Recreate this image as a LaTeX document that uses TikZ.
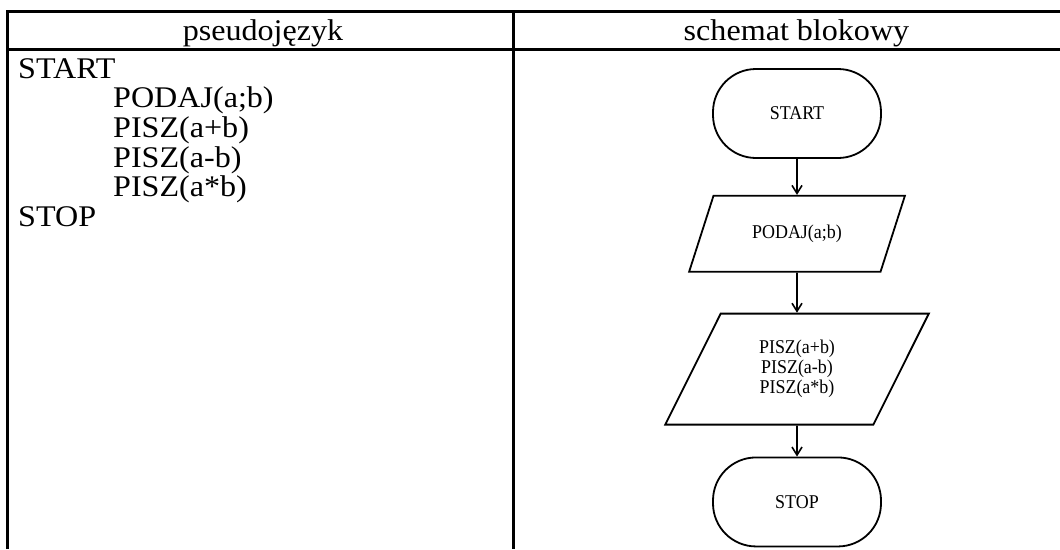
\documentclass[tikz,border=0pt]{standalone}
\usepackage{fontspec}
\setmainfont{Liberation Serif}[FakeStretch=1.07]
\newfontfamily\chartfont{Liberation Serif}[FakeStretch=0.92]
\usetikzlibrary{arrows.meta,positioning,shapes.geometric}
\tikzset{
  grid/.style={line width=3pt},
  code/.style={inner sep=0pt,anchor=base west,font=\fontsize{30}{29.6}\selectfont},
  head/.style={inner sep=0pt,anchor=base,font=\fontsize{30}{29.6}\selectfont},
  chart/.style={font=\chartfont\fontsize{19.5}{20}\selectfont,align=center},
  terminal/.style={chart,draw,line width=1.8pt,rounded corners=43pt,
    minimum width=168pt,minimum height=89pt},
  inout/.style={chart,draw,line width=1.8pt,trapezium,trapezium stretches=true},
  flow/.style={line width=1.6pt,-{Straight Barb[length=8pt,width=10pt]}},
}
\begin{document}
\begin{tikzpicture}[x=1pt,y=-1pt]
  \useasboundingbox (0,0) rectangle (1060,549);
  % table
  \draw[grid] (7.5,549) -- (7.5,11) -- (1060,11);
  \draw[grid] (7.5,49) -- (1060,49);
  \draw[grid] (513,11) -- (513,549);
  \node[head] (headL) at (263,40.5) {pseudojęzyk};
  \node[head] (headR) at (796.5,40.5) {schemat blokowy};
  % pseudocode
  \node[code] (codeStart) at (18,78.3) {START};
  \foreach \txt [count=\i] in {{PODAJ(a;b)},{PISZ(a+b)},{PISZ(a-b)},{PISZ(a*b)}}
    \node[code] (code\i) at (113,78.3+29.6*\i) {\txt};
  \node[code] (codeStop) at (18,226.3) {STOP};
  % flowchart
  \node[terminal] (start) at (797,113.5) {START};
  \node[inout,below=36pt of start,trapezium left angle=60,trapezium right angle=120,
    minimum width=216pt,minimum height=76pt] (read) {PODAJ(a;b)};
  \node[inout,below=40pt of read,trapezium left angle=65,trapezium right angle=115,
    minimum width=264pt,minimum height=111pt] (write) {PISZ(a+b)\\PISZ(a-b)\\PISZ(a*b)};
  \node[terminal,below=31pt of write] (stop) {STOP};
  \draw[flow] (start) -- (read);
  \draw[flow] (read) -- (write);
  \draw[flow] (write) -- (stop);
\end{tikzpicture}
\end{document}
